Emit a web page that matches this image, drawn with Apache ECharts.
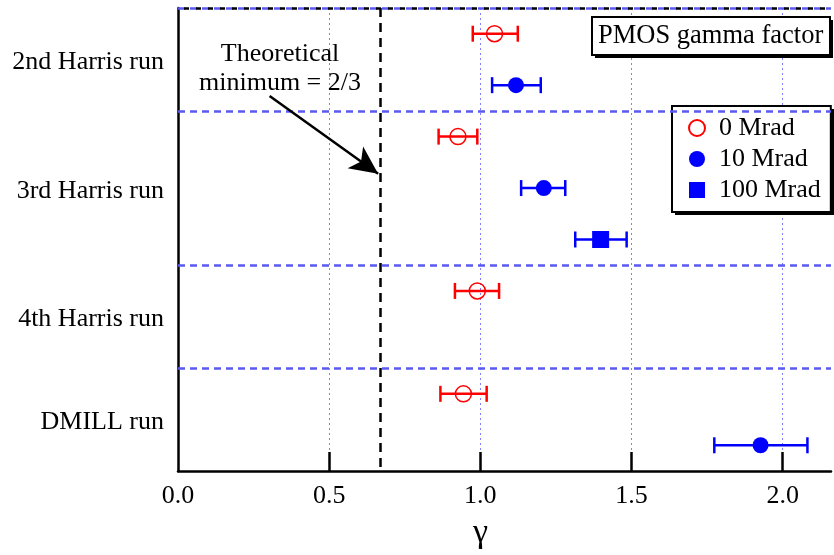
<!DOCTYPE html>
<html>
<head>
<meta charset="utf-8">
<script src="https://cdn.jsdelivr.net/npm/echarts@6/dist/echarts.min.js"></script>
<style>
html,body{margin:0;padding:0;background:#fff;}
#chart{width:834px;height:555px;}
</style>
</head>
<body>
<div id="chart"></div>
<script>
// ---- data ----
const groups = ['2nd Harris run', '3rd Harris run', '4th Harris run', 'DMILL run'];
const groupLabelPos = [1, 3.5, 6, 8];
const separators = [0, 2, 5, 7];
const xTicks = [0, 0.5, 1.0, 1.5, 2.0];
const theoreticalMin = 2 / 3;

const rows0 = [0.5, 2.5, 5.5, 7.5];
const gamma0 = [1.047, 0.926, 0.990, 0.944];
const gamma0Low = [0.975, 0.862, 0.916, 0.868];
const gamma0High = [1.124, 0.990, 1.062, 1.021];

const rows10 = [1.5, 3.5, 8.5];
const gamma10 = [1.118, 1.210, 1.927];
const gamma10Low = [1.039, 1.135, 1.774];
const gamma10High = [1.200, 1.281, 2.082];

const rows100 = [4.5];
const gamma100 = [1.398];
const gamma100Low = [1.314];
const gamma100High = [1.484];

const seriesNames = ['0 Mrad', '10 Mrad', '100 Mrad'];

// ---- helpers ----
const FONT = "'Liberation Serif', 'DejaVu Serif', serif";
function pts(xs, ys) { return xs.map((x, i) => [x, ys[i]]); }
function errs(lo, hi, ys) { return lo.map((l, i) => [l, hi[i], ys[i]]); }
function errSeries(data, color) {
  return {
    type: 'custom',
    name: 'err-' + color,
    data: data,
    encode: { x: [0, 1], y: 2 },
    z: 3,
    silent: true,
    renderItem: function (params, api) {
      const y = api.value(2);
      const p1 = api.coord([api.value(0), y]);
      const p2 = api.coord([api.value(1), y]);
      const h = 8;
      const style = { stroke: color, lineWidth: 2.5, fill: null };
      return {
        type: 'group',
        children: [
          { type: 'line', shape: { x1: p1[0], y1: p1[1], x2: p2[0], y2: p2[1] }, style: style },
          { type: 'line', shape: { x1: p1[0], y1: p1[1] - h, x2: p1[0], y2: p1[1] + h }, style: style },
          { type: 'line', shape: { x1: p2[0], y1: p2[1] - h, x2: p2[0], y2: p2[1] + h }, style: style }
        ]
      };
    }
  };
}
const SQUARE = 'path://M0,0L10,0L10,10L0,10Z';

const chart = echarts.init(document.getElementById('chart'), null, { renderer: 'canvas' });

const option = {
  animation: false,
  backgroundColor: '#fff',
  textStyle: { fontFamily: FONT },
  title: {
    text: 'PMOS gamma factor',
    left: 592, top: 17,
    padding: [5, 7, 5, 6],
    borderColor: '#000', borderWidth: 2,
    backgroundColor: '#fff',
    textStyle: { fontFamily: FONT, fontSize: 26.5, fontWeight: 'normal', color: '#000', lineHeight: 28 }
  },
  legend: {
    data: [
      { name: seriesNames[0], icon: 'circle' },
      { name: seriesNames[1], icon: 'circle' },
      { name: seriesNames[2], icon: SQUARE }
    ],
    orient: 'vertical',
    left: 672, top: 106,
    padding: [9, 10, 9, 16],
    itemWidth: 34, itemHeight: 16, itemGap: 5,
    symbolKeepAspect: true,
    borderColor: '#000', borderWidth: 2,
    backgroundColor: '#fff',
    textStyle: { fontFamily: FONT, fontSize: 26, color: '#000' },
    selectedMode: false
  },
  grid: { left: 178, right: 0, top: 8, bottom: 80, containLabel: false },
  xAxis: {
    type: 'value', min: 0, max: 2.16, interval: 0.5,
    name: 'γ', nameLocation: 'middle', nameGap: 45,
    nameTextStyle: { fontFamily: FONT, fontSize: 34, color: '#000', padding: [0, 48, 0, 0] },
    axisLine: { show: true, onZero: false, lineStyle: { color: '#000', width: 2.5 } },
    axisTick: { show: true, inside: true, length: 19, customValues: [0.5, 1, 1.5, 2], lineStyle: { color: '#000', width: 2.5 } },
    axisLabel: {
      fontFamily: FONT, fontSize: 26, color: '#000', margin: 12,
      formatter: function (v) {
        const i = xTicks.findIndex(t => Math.abs(t - v) < 1e-6);
        return i >= 0 ? xTicks[i].toFixed(1) : '';
      }
    },
    splitLine: { show: true, lineStyle: { color: '#8080ff', width: 1, type: [2, 3] } }
  },
  yAxis: {
    type: 'value', min: 0, max: 9, interval: 0.5, inverse: true,
    axisLine: { show: true, onZero: false, lineStyle: { color: '#000', width: 2.5 } },
    axisTick: { show: false },
    splitLine: { show: false },
    axisLabel: {
      fontFamily: FONT, fontSize: 26, color: '#000', margin: 14,
      formatter: function (v) {
        const i = groupLabelPos.findIndex(t => Math.abs(t - v) < 1e-6);
        return i >= 0 ? '{g|' + groups[i] + '}' : '';
      },
      rich: { g: { fontFamily: FONT, fontSize: 26, color: '#000', padding: [6, 0, 0, 0] } }
    }
  },
  graphic: [
    {
      type: 'text', x: 280, y: 40, z: 100,
      style: {
        text: 'Theoretical\nminimum = 2/3',
        font: "26px " + FONT, fill: '#000', align: 'center', verticalAlign: 'top', lineHeight: 29
      }
    },
    { type: 'rect', z: 2, shape: { x: 595, y: 20, width: 238, height: 38 }, style: { fill: '#000' } },
    { type: 'rect', z: 2, shape: { x: 675, y: 109, width: 160, height: 106 }, style: { fill: '#000' } }
  ],
  series: [
    {
      type: 'scatter', name: '__lines', data: [], z: 1, silent: true,
      markLine: {
        silent: true, symbol: 'none', animation: false,
        label: { show: false },
        data: [
          ...separators.map(s => ({ yAxis: s, lineStyle: { color: '#5a5aee', width: 2.5, type: [7, 5] } })),
          { yAxis: 0, lineStyle: { color: '#000', width: 2.5, type: [5, 7], dashOffset: 6 } },
          { xAxis: theoreticalMin, lineStyle: { color: '#000', width: 2.5, type: [9, 6] } },
          [
            { coord: [0.303, 1.71], symbol: 'none', lineStyle: { color: '#000', width: 2.5, type: 'solid' } },
            { coord: [0.662, 3.22], symbol: 'arrow', symbolSize: [20, 28] }
          ]
        ]
      }
    },
    errSeries(errs(gamma0Low, gamma0High, rows0), '#ff0000'),
    errSeries(errs(gamma10Low, gamma10High, rows10), '#0000ff'),
    errSeries(errs(gamma100Low, gamma100High, rows100), '#0000ff'),
    {
      type: 'scatter', name: seriesNames[0], data: pts(gamma0, rows0), z: 5,
      symbol: 'circle', symbolSize: 16,
      itemStyle: { color: 'rgba(255,255,255,0)', borderColor: '#ff0000', borderWidth: 1.5, opacity: 1 }
    },
    {
      type: 'scatter', name: seriesNames[1], data: pts(gamma10, rows10), z: 5,
      symbol: 'circle', symbolSize: 16,
      itemStyle: { color: '#0000ff', opacity: 1 }
    },
    {
      type: 'scatter', name: seriesNames[2], data: pts(gamma100, rows100), z: 5,
      symbol: 'rect', symbolSize: 17,
      itemStyle: { color: '#0000ff', opacity: 1 }
    }
  ]
};
chart.setOption(option);
</script>
</body>
</html>
